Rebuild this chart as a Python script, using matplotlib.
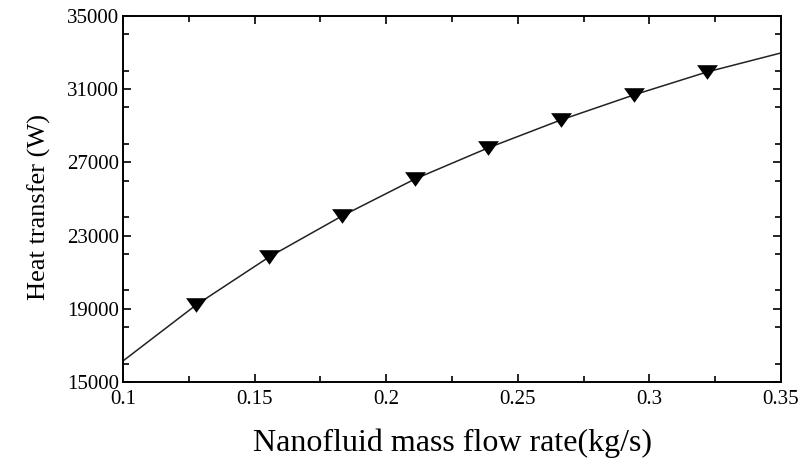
import matplotlib.pyplot as plt
import numpy as np
from matplotlib.ticker import MultipleLocator

# values
flow_rate = [0.1, 0.1277, 0.1555, 0.1832, 0.2109, 0.2387, 0.2664, 0.2942, 0.3219, 0.35]
heat = [16150, 19200, 21830, 24070, 26090, 27790, 29320, 30690, 31940, 32980]

marker_x = [0.1277, 0.1555, 0.1832, 0.2109, 0.2387, 0.2664, 0.2942, 0.3219]
marker_y = [19200, 21830, 24070, 26090, 27790, 29320, 30690, 31940]

x_ticks = [0.1, 0.15, 0.2, 0.25, 0.3, 0.35]
x_tick_labels = ["0.1", "0.15", "0.2", "0.25", "0.3", "0.35"]
y_ticks = [15000, 19000, 23000, 27000, 31000, 35000]

plt.rcParams["font.family"] = ["Liberation Serif", "DejaVu Serif"]

fig = plt.figure(figsize=(8.02, 4.63), dpi=100)
ax = fig.add_axes([0.1534, 0.175, 0.8204, 0.7905])

# wide, flat downward triangle like the reference
tri = [(-1.0, 0.7), (1.0, 0.7), (0.0, -0.7)]

ax.plot(flow_rate, heat, color="#222222", lw=1.1)
ax.plot(marker_x, marker_y, linestyle="none", marker=tri, ms=15,
        color="black", markeredgewidth=0)

ax.set_xlim(0.1, 0.35)
ax.set_ylim(15000, 35000)
ax.set_xticks(x_ticks)
ax.set_xticklabels(x_tick_labels)
ax.set_yticks(y_ticks)
ax.xaxis.set_minor_locator(MultipleLocator(0.025))
ax.yaxis.set_minor_locator(MultipleLocator(2000))

ax.tick_params(which="both", direction="in", top=True, right=True,
               width=1.2, labelsize=15, colors="black")
ax.tick_params(which="major", length=6)
ax.tick_params(which="minor", length=4)
ax.tick_params(axis="y", pad=3)
ax.tick_params(axis="x", pad=6)

for s in ax.spines.values():
    s.set_linewidth(1.4)

ax.set_xlabel("Nanofluid mass flow rate(kg/s)", fontsize=23, labelpad=14)
ax.set_ylabel("Heat transfer (W)", fontsize=19)
ax.yaxis.set_label_coords(-0.11, 0.477)

fig.savefig("out.png", dpi=100)
